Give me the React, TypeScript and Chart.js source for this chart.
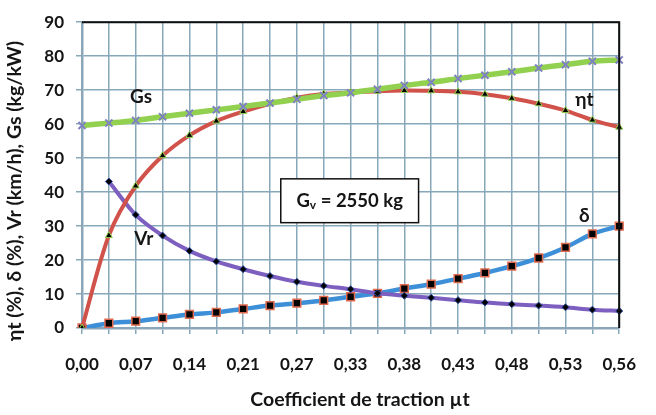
import React, { useEffect, useRef } from "react";
import { Chart, registerables } from "chart.js";

Chart.register(...registerables);

// Category positions (21 points), labelled every other one
const categories = [
  "0,00", "", "0,07", "", "0,14", "", "0,21", "", "0,27", "", "0,33",
  "", "0,38", "", "0,43", "", "0,48", "", "0,53", "", "0,56",
];

const etaT = [0, 27.2, 41.8, 50.7, 56.7, 60.9, 63.7, 66.0, 67.8, 68.9, 69.3, 69.7, 69.9, 69.8, 69.5, 68.8, 67.6, 66.0, 64.0, 61.2, 59.1];
const gs = [59.6, 60.3, 61.1, 62.2, 63.2, 64.2, 65.2, 66.2, 67.3, 68.4, 69.2, 70.3, 71.4, 72.3, 73.4, 74.4, 75.4, 76.5, 77.5, 78.5, 78.9];
const vr = [null, 43.1, 33.3, 27.2, 22.7, 19.6, 17.3, 15.3, 13.6, 12.4, 11.4, 10.2, 9.5, 8.9, 8.2, 7.5, 7.0, 6.6, 6.1, 5.4, 5.0];
const delta = [0, 1.4, 2.0, 3.0, 4.0, 4.6, 5.6, 6.6, 7.3, 8.1, 9.2, 10.2, 11.6, 12.9, 14.5, 16.2, 18.2, 20.6, 23.7, 27.7, 30.0];

const yMin = 0;
const yMax = 90;
const yStep = 10;

const yTitle = "ηt (%), δ (%), Vr (km/h), Gs (kg/kW)";
const xTitle = "Coefficient de traction µt";

// series labels anchored at [category index, value]
const seriesLabels: [string, number, number][] = [
  ["Gs", 2.2, 68],
  ["ηt", 18.7, 67],
  ["Vr", 2.3, 26.3],
  ["δ", 18.7, 33.1],
];

const FONT = "Lato, 'Open Sans', 'DejaVu Sans', sans-serif";
const TEXT = "#151515";
const GRID = "#86a8ba";

const decorPlugin = {
  id: "decor",
  afterDatasetsDraw(chart: any) {
    const { ctx, chartArea, scales } = chart;
    const xs = scales.x;
    const ys = scales.y;
    ctx.save();
    // top & right black border
    ctx.strokeStyle = "#111";
    ctx.lineWidth = 2;
    ctx.beginPath();
    ctx.moveTo(chartArea.left, chartArea.top);
    ctx.lineTo(chartArea.right, chartArea.top);
    ctx.lineTo(chartArea.right, chartArea.bottom);
    ctx.stroke();

    // series labels
    ctx.fillStyle = TEXT;
    ctx.font = `bold 19px ${FONT}`;
    ctx.textAlign = "center";
    ctx.textBaseline = "middle";
    for (const [t, xi, v] of seriesLabels) {
      ctx.fillText(t, xs.getPixelForValue(xi), ys.getPixelForValue(v));
    }

    // Gv box
    const bx1 = xs.getPixelForValue(7.4);
    const bx2 = xs.getPixelForValue(12.53);
    const by1 = ys.getPixelForValue(43.9);
    const by2 = ys.getPixelForValue(31.0);
    ctx.fillStyle = "#fff";
    ctx.fillRect(bx1, by1, bx2 - bx1, by2 - by1);
    ctx.strokeStyle = "#111";
    ctx.lineWidth = 1.5;
    ctx.strokeRect(bx1, by1, bx2 - bx1, by2 - by1);
    const cx = (bx1 + bx2) / 2;
    const cy = (by1 + by2) / 2;
    ctx.fillStyle = TEXT;
    ctx.textBaseline = "alphabetic";
    ctx.textAlign = "left";
    const big = `bold 18.5px ${FONT}`;
    const small = `bold 12px ${FONT}`;
    ctx.font = big;
    const wG = ctx.measureText("G").width;
    const wRest = ctx.measureText(" = 2550 kg").width;
    ctx.font = small;
    const wv = ctx.measureText("v").width;
    let x0 = cx - (wG + wv + wRest) / 2;
    const base = cy + 6;
    ctx.font = big;
    ctx.fillText("G", x0, base);
    x0 += wG;
    ctx.font = small;
    ctx.fillText("v", x0, base + 2);
    x0 += wv;
    ctx.font = big;
    ctx.fillText(" = 2550 kg", x0, base);

    // axis titles
    ctx.font = `bold 19.5px ${FONT}`;
    ctx.textAlign = "center";
    ctx.textBaseline = "middle";
    ctx.fillText(xTitle, 360, 400);
    ctx.translate(15, 191);
    ctx.rotate(-Math.PI / 2);
    ctx.fillText(yTitle, 0, 0);
    ctx.restore();
  },
};

export default function App() {
  const ref = useRef<HTMLCanvasElement | null>(null);
  useEffect(() => {
    if (!ref.current) return;
    const chart = new Chart(ref.current, {
      type: "line",
      data: {
        labels: categories,
        datasets: [
          {
            label: "Gs",
            data: gs,
            borderColor: "#92d050",
            borderWidth: 5.5,
            pointStyle: "crossRot",
            pointRadius: 5,
            pointBorderColor: "#8080c4",
            pointBorderWidth: 2,
            pointBackgroundColor: "#8080c4",
            tension: 0.3,
            order: 0,
          },
          {
            label: "ηt",
            data: etaT,
            borderColor: "#d0524a",
            borderWidth: 4,
            pointStyle: "triangle",
            pointRadius: 4,
            pointBackgroundColor: "#000",
            pointBorderColor: "#92d050",
            pointBorderWidth: 1,
            tension: 0.3,
            order: 1,
          },
          {
            label: "Vr",
            data: vr,
            borderColor: "#7d5fc0",
            borderWidth: 4,
            pointStyle: "rectRot",
            pointRadius: 3.5,
            pointBackgroundColor: "#000",
            pointBorderColor: "#2a4a9a",
            pointBorderWidth: 1,
            tension: 0.3,
            order: 2,
          },
          {
            label: "δ",
            data: delta,
            borderColor: "#3d8fd8",
            borderWidth: 4.5,
            pointStyle: "rect",
            pointRadius: 5.5,
            pointBackgroundColor: "#000",
            pointBorderColor: "#e06a50",
            pointBorderWidth: 1.5,
            tension: 0.3,
            order: 3,
          },
        ],
      },
      options: {
        animation: false,
        responsive: false,
        layout: { padding: { top: 17, right: 18, left: 0, bottom: 0 } },
        plugins: {
          legend: { display: false },
          tooltip: { enabled: false },
        },
        scales: {
          x: {
            type: "category",
            offset: false,
            grid: { color: GRID, lineWidth: 1.5, tickLength: 6, drawTicks: true },
            border: { display: true, color: "#8aa6b8", width: 2.5 },
            ticks: {
              autoSkip: false,
              maxRotation: 0,
              minRotation: 0,
              padding: 20,
              color: TEXT,
              font: { family: FONT, size: 17, weight: "bold" },
            },
            afterFit(scale: any) {
              scale.height = 87;
            },
          },
          y: {
            min: yMin,
            max: yMax,
            ticks: {
              stepSize: yStep,
              padding: 12,
              color: TEXT,
              font: { family: FONT, size: 17, weight: "bold" },
            },
            grid: { color: GRID, lineWidth: 1.5, tickLength: 6 },
            border: { display: true, color: "#8aa6b8", width: 2.5 },
            afterFit(scale: any) {
              scale.width = 82;
            },
          },
        },
      },
      plugins: [decorPlugin],
    });
    return () => chart.destroy();
  }, []);
  return (
    <div style={{ position: "absolute", left: 0, top: 0, width: 656, height: 415, background: "#fff" }}>
      <canvas ref={ref} width={656} height={415} />
    </div>
  );
}
